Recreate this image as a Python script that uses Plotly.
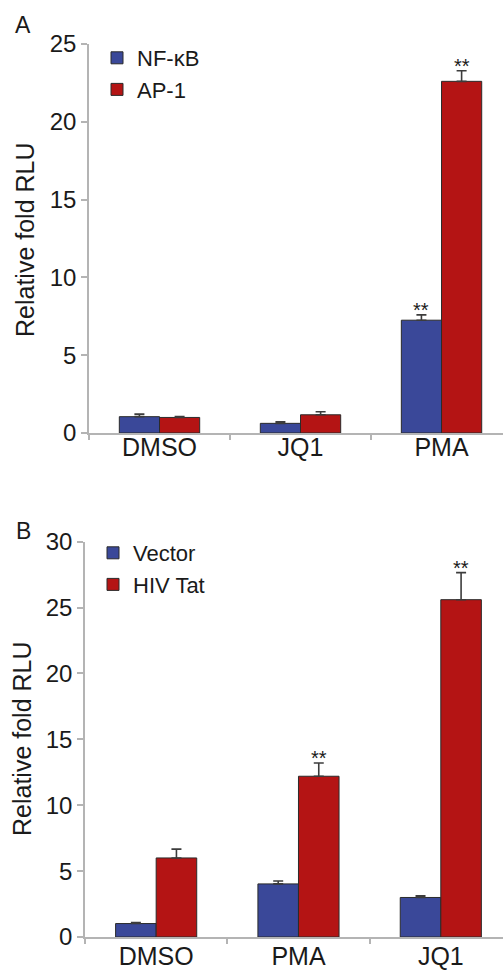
import plotly.graph_objects as go

# ---------------- data ----------------
cats_a = ["DMSO", "JQ1", "PMA"]
nfkb = [1.05, 0.62, 7.25]
nfkb_err = [0.16, 0.10, 0.34]
ap1 = [1.00, 1.17, 22.6]
ap1_err = [0.06, 0.20, 0.68]
nfkb_sig = ["", "", "**"]
ap1_sig = ["", "", "**"]

cats_b = ["DMSO", "PMA", "JQ1"]
vector = [1.02, 4.03, 3.00]
vector_err = [0.08, 0.22, 0.12]
tat = [6.0, 12.2, 25.6]
tat_err = [0.67, 1.0, 2.05]
vector_sig = ["", "", ""]
tat_sig = ["", "**", "**"]

yticks_a = [0, 5, 10, 15, 20, 25]
yticks_b = [0, 5, 10, 15, 20, 25, 30]

# ---------------- style ----------------
BLUE = "#3a4899"
RED = "#b41414"
EDGE = "#2b2b2b"
ERR = "#3c3c3c"
AX = "#b4b4b4"
TXT = "#1a1a1a"
FONT = "Liberation Sans, Arial, Helvetica, sans-serif"
W, H = 503, 972
BARGAP = 0.43


def px(x):
    return x / W


def py(y):
    return 1 - y / H


def bar(x, y, err, name, color, xa, ya, leg):
    return go.Bar(
        x=x, y=y, name=name, xaxis=xa, yaxis=ya, legend=leg,
        marker=dict(color=color, line=dict(color=EDGE, width=1)),
        error_y=dict(type="data", array=err, arrayminus=[0] * len(err),
                     symmetric=False, color=ERR, thickness=1.6, width=5),
    )


fig = go.Figure()
fig.add_trace(bar(cats_a, nfkb, nfkb_err, "NF-κB", BLUE, "x", "y", "legend"))
fig.add_trace(bar(cats_a, ap1, ap1_err, "AP-1", RED, "x", "y", "legend"))
fig.add_trace(bar(cats_b, vector, vector_err, "Vector", BLUE, "x2", "y2", "legend2"))
fig.add_trace(bar(cats_b, tat, tat_err, "HIV Tat", RED, "x2", "y2", "legend2"))

off = (1 - BARGAP) / 4
annotations = []


def stars(cats, vals, errs, sig, shift, xref, yref):
    for i, (v, e, s) in enumerate(zip(vals, errs, sig)):
        if s:
            annotations.append(dict(
                x=i + shift, y=v + e, xref=xref, yref=yref, text=s,
                showarrow=False, xanchor="center", yanchor="middle", yshift=5,
                font=dict(size=20, color=TXT)))


stars(cats_a, nfkb, nfkb_err, nfkb_sig, -off, "x", "y")
stars(cats_a, ap1, ap1_err, ap1_sig, off, "x", "y")
stars(cats_b, vector, vector_err, vector_sig, -off, "x2", "y2")
stars(cats_b, tat, tat_err, tat_sig, off, "x2", "y2")

# panel letters and y titles
lab = dict(xref="paper", yref="paper", showarrow=False, xanchor="center",
           yanchor="middle")
annotations += [
    dict(text="A", x=px(23), y=py(25), font=dict(size=23, color=TXT), **lab),
    dict(text="B", x=px(23), y=py(531), font=dict(size=23, color=TXT), **lab),
    dict(text="Relative fold RLU", x=px(25), y=py(240), textangle=-90,
         font=dict(size=25, color=TXT), **lab),
    dict(text="Relative fold RLU", x=px(22), y=py(739), textangle=-90,
         font=dict(size=25, color=TXT), **lab),
]

xcommon = dict(type="category", tickson="boundaries", ticks="outside", ticklen=5,
               tickcolor=AX, tickwidth=1.5, showline=True, linecolor=AX, linewidth=1.5,
               showgrid=False, zeroline=False, tickfont=dict(size=25, color=TXT),
               fixedrange=True, automargin=False)
ycommon = dict(ticks="outside", ticklen=6, tickcolor=AX, tickwidth=1.5, showline=True,
               linecolor=AX, linewidth=1.5, showgrid=False, zeroline=False,
               tickfont=dict(size=24, color=TXT), fixedrange=True, automargin=False)

fig.update_layout(
    width=W, height=H,
    margin=dict(l=0, r=0, t=0, b=0, pad=0, autoexpand=False),
    barmode="group", bargap=BARGAP, bargroupgap=0,
    plot_bgcolor="white", paper_bgcolor="white",
    font=dict(family=FONT, size=22, color=TXT),
    xaxis=dict(domain=[px(89), 1], anchor="y", range=[-0.5, 2.436],
               ticklabelstandoff=-9, **xcommon),
    yaxis=dict(domain=[py(433), py(44)], anchor="x", range=[0, 25],
               tickvals=yticks_a, **ycommon),
    xaxis2=dict(domain=[px(85), 1], anchor="y2", range=[-0.5, 2.437],
                ticklabelstandoff=-4, **xcommon),
    yaxis2=dict(domain=[py(937), py(541.7)], anchor="x2", range=[0, 30],
                tickvals=yticks_b, **ycommon),
    legend=dict(x=px(97), y=py(37), xanchor="left", yanchor="top",
                bgcolor="rgba(0,0,0,0)", font=dict(size=22, color=TXT),
                tracegroupgap=0),
    legend2=dict(x=px(93), y=py(532), xanchor="left", yanchor="top",
                 bgcolor="rgba(0,0,0,0)", font=dict(size=22, color=TXT),
                 tracegroupgap=0),
    annotations=annotations,
    showlegend=True,
)

fig.write_html(
    "out.html",
    config={"displayModeBar": False},
    post_script="document.body.style.margin='0px';document.body.style.overflow='hidden';",
)
